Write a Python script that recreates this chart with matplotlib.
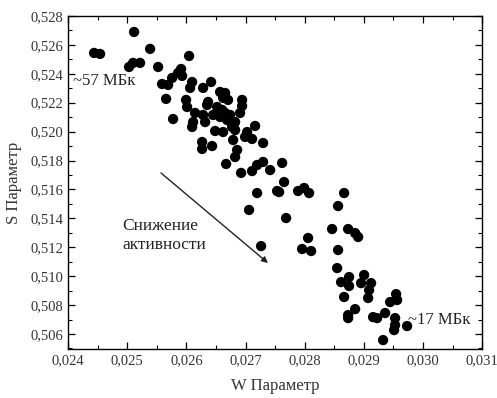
import matplotlib.pyplot as plt
from matplotlib.ticker import MultipleLocator, FuncFormatter

plt.rcParams['font.family'] = ['Liberation Serif', 'DejaVu Serif']

# W and S parameters
w_param = [0.024440, 0.024541, 0.025116, 0.025031, 0.025099, 0.025217, 0.025387, 0.025522,
           0.026046, 0.025589, 0.025691, 0.025657, 0.025759, 0.025860, 0.025911, 0.025928,
           0.025775, 0.026097, 0.026063, 0.025995, 0.026012, 0.026147, 0.026097, 0.026114,
           0.026283, 0.026418, 0.026367, 0.026350, 0.026283, 0.026317, 0.026266, 0.026266,
           0.026435, 0.026486, 0.026452, 0.026519, 0.026570, 0.026655, 0.026621, 0.026705,
           0.026604, 0.026570, 0.026655, 0.026739, 0.026689, 0.026824, 0.026773, 0.026621,
           0.026824, 0.026790, 0.026858, 0.026824, 0.026672, 0.026908, 0.026942, 0.026942,
           0.027027, 0.026993, 0.027111, 0.027162, 0.027297, 0.026925, 0.027111, 0.027196,
           0.027297, 0.027416, 0.027619, 0.027652, 0.027196, 0.027534, 0.027568, 0.027889,
           0.027991, 0.028075, 0.028667, 0.027060, 0.027263, 0.027686, 0.027957, 0.028058,
           0.028109, 0.028464, 0.028565, 0.028565, 0.028735, 0.028853, 0.028904, 0.028549,
           0.028616, 0.028751, 0.028751, 0.028667, 0.028954, 0.029005, 0.029123, 0.029090,
           0.029073, 0.028853, 0.028735, 0.028735, 0.029157, 0.029225, 0.029360, 0.029326,
           0.029445, 0.029546, 0.029563, 0.029529, 0.029529, 0.029512, 0.029732]
s_param = [0.52544, 0.52537, 0.52689, 0.52447, 0.52475, 0.52475, 0.52572, 0.52447,
           0.52523, 0.52329, 0.52323, 0.52226, 0.52371, 0.52406, 0.52433, 0.52385,
           0.52087, 0.52343, 0.52302, 0.52219, 0.52170, 0.52129, 0.52032, 0.52066,
           0.52302, 0.52343, 0.52205, 0.52184, 0.52115, 0.52066, 0.51928, 0.51880,
           0.51900, 0.52004, 0.52115, 0.52170, 0.52274, 0.52267, 0.52233, 0.52219,
           0.52150, 0.52101, 0.52129, 0.52115, 0.52080, 0.52066, 0.52032, 0.51997,
           0.52011, 0.51942, 0.51873, 0.51824, 0.51776, 0.52129, 0.52219, 0.52177,
           0.51997, 0.51963, 0.51949, 0.52039, 0.51921, 0.51714, 0.51727, 0.51769,
           0.51790, 0.51734, 0.51783, 0.51651, 0.51575, 0.51589, 0.51582, 0.51589,
           0.51610, 0.51575, 0.51575, 0.51458, 0.51208, 0.51402, 0.51188, 0.51264,
           0.51174, 0.51326, 0.51485, 0.51181, 0.51326, 0.51298, 0.51271, 0.51056,
           0.50959, 0.50994, 0.50932, 0.50856, 0.50952, 0.51008, 0.50952, 0.50904,
           0.50849, 0.50772, 0.50731, 0.50710, 0.50717, 0.50710, 0.50745, 0.50558,
           0.50821, 0.50876, 0.50835, 0.50710, 0.50662, 0.50627, 0.50655]

fig = plt.figure(figsize=(4.97, 3.98), dpi=100)
ax = fig.add_axes([0.137, 0.123, 0.833, 0.837])

ax.scatter(w_param, s_param, s=55, color='black', edgecolors='none', zorder=3)

ax.set_xlim(0.024, 0.031)
ax.set_ylim(0.50496, 0.528)

ax.xaxis.set_major_locator(MultipleLocator(0.001))
ax.xaxis.set_minor_locator(MultipleLocator(0.0005))
ax.yaxis.set_major_locator(MultipleLocator(0.002))
ax.yaxis.set_minor_locator(MultipleLocator(0.001))
comma = FuncFormatter(lambda v, p: f"{v:.3f}".replace('.', ','))
ax.xaxis.set_major_formatter(comma)
ax.yaxis.set_major_formatter(comma)
ax.tick_params(which='both', direction='in', top=True, right=True,
               labelsize=10.5, labelcolor='#333333')
ax.tick_params(which='major', length=5, width=0.9)
ax.tick_params(which='minor', length=3, width=0.8)
for sp in ax.spines.values():
    sp.set_linewidth(1.0)

ax.set_xlabel('W Параметр', fontsize=12, color='#333333', labelpad=8)
ax.set_ylabel('S Параметр', fontsize=12, color='#333333', labelpad=6)

# annotations
ax.text(0.02408, 0.5235, '~57 МБк', fontsize=12, va='center', ha='left', color='#222222')
ax.text(0.02975, 0.50696, '~17 МБк', fontsize=12, va='center', ha='left', color='#222222')
ax.text(0.02491, 0.51278, 'Снижение\nактивности', fontsize=12.5, va='center', ha='left',
        color='#222222', linespacing=1.25)
ax.annotate('', xy=(0.02738, 0.51091), xytext=(0.02557, 0.51714),
            arrowprops=dict(arrowstyle='-|>', color='#222222', lw=1.0,
                            mutation_scale=9, shrinkA=0, shrinkB=0))

fig.savefig('out.png', dpi=100)
